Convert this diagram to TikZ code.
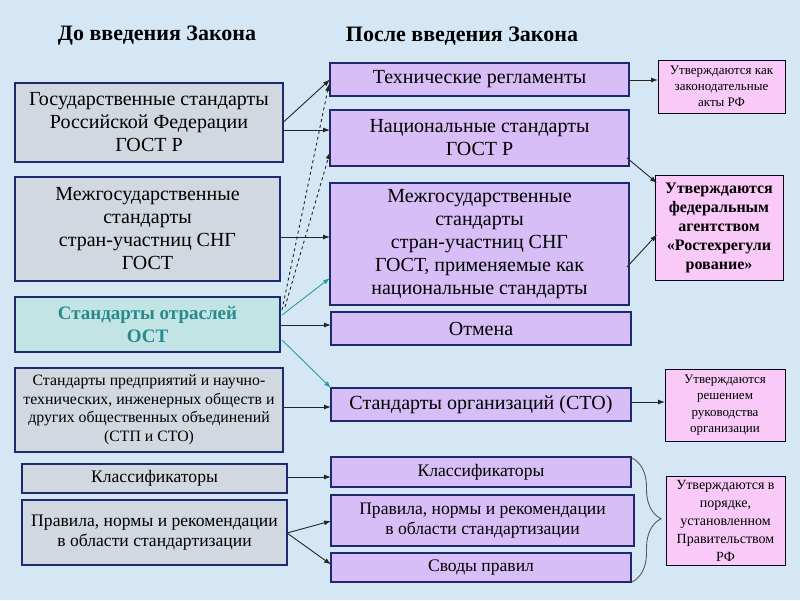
\documentclass[tikz,border=0pt]{standalone}
\usepackage{fontspec}
\setmainfont{Liberation Serif}
\usetikzlibrary{arrows.meta,decorations.pathreplacing,calc}
\definecolor{bgblue}{HTML}{D5E6F5}
\definecolor{navy}{HTML}{1F2A6E}
\definecolor{grayfill}{HTML}{D2D8E0}
\definecolor{tealfill}{HTML}{C2E4E4}
\definecolor{tealtext}{HTML}{2A8A8A}
\definecolor{tealline}{HTML}{2A9E9E}
\definecolor{lavfill}{HTML}{D8BEF6}
\definecolor{pinkfill}{HTML}{F9CAF7}
\tikzset{
  basebox/.style={draw=navy, line width=1.1pt, inner sep=0pt, outer sep=0pt, align=center, anchor=north west},
  lbox/.style={basebox, fill=grayfill},
  obox/.style={basebox, fill=tealfill, text=tealtext},
  mbox/.style={basebox, fill=lavfill},
  rbox/.style={basebox, draw=black!80!navy, line width=0.9pt, fill=pinkfill},
  conn/.style={line width=0.9pt, draw=black!85, -{Latex[length=7pt,width=5pt]}},
  tconn/.style={line width=0.9pt, draw=tealline, -{Latex[length=7pt,width=5pt]}},
  dconn/.style={line width=0.9pt, draw=black!85, dashed, -{Latex[length=7pt,width=5pt]}},
  big/.style={font=\fontsize{20}{23}\selectfont},
  mid/.style={font=\fontsize{17.6}{20.5}\selectfont},
  hdr/.style={font=\bfseries\fontsize{22}{24}\selectfont, inner sep=0pt}
}
\begin{document}
\begin{tikzpicture}[x=1pt,y=-1pt]
\fill[bgblue] (0,0) rectangle (800,600);
\useasboundingbox (0,0) rectangle (800,600);

\node[hdr] (H1) at (157,36) {До введения Закона};
\node[hdr] (H2) at (462,36) {После введения Закона};

% left column
\node[lbox, big, minimum width=268pt, minimum height=79pt] (L1) at (15,83)
  {Государственные стандарты\\Российской Федерации\\ГОСТ Р};
\node[lbox, big, minimum width=265pt, minimum height=104pt] (L2) at (15,177)
  {Межгосударственные\\стандарты\\стран-участниц СНГ\\ГОСТ};
\node[obox, minimum width=265pt, minimum height=55pt, font=\bfseries\fontsize{19}{23}\selectfont] (L3) at (15,297)
  {Стандарты отраслей\\ОСТ};
\node[lbox, minimum width=268pt, minimum height=84pt, font=\fontsize{15.8}{18.5}\selectfont] (L4) at (15,368)
  {Стандарты предприятий и научно-\\технических, инженерных обществ и\\других общественных объединений\\(СТП и СТО)};
\node[lbox, mid, minimum width=265pt, minimum height=29pt] (L5) at (22,464)
  {Классификаторы};
\node[lbox, mid, minimum width=265pt, minimum height=65pt] (L6) at (22,500)
  {Правила, нормы и рекомендации\\в области стандартизации};

% middle column
\node[mbox, big, minimum width=299pt, minimum height=33pt] (M1) at (330,63)
  {Технические регламенты};
\node[mbox, big, minimum width=299pt, minimum height=56pt] (M2) at (330,110)
  {Национальные стандарты\\ГОСТ Р};
\node[mbox, big, minimum width=299pt, minimum height=122pt] (M3) at (330,183)
  {Межгосударственные\\стандарты\\стран-участниц СНГ\\ГОСТ, применяемые как\\национальные стандарты};
\node[mbox, big, minimum width=300pt, minimum height=33pt] (M4) at (331,312)
  {Отмена};
\node[mbox, big, minimum width=300pt, minimum height=33pt] (M5) at (331,388)
  {Стандарты организаций (СТО)};
\node[mbox, mid, minimum width=300pt, minimum height=30pt] (M6) at (331,457)
  {Классификаторы};
\node[mbox, mid, minimum width=303pt, minimum height=51pt] (M7) at (331,495)
  {Правила, нормы и рекомендации\\в области стандартизации};
\node[mbox, mid, minimum width=300pt, minimum height=29pt] (M8) at (331,553)
  {Своды правил};

% right column
\node[rbox, font=\fontsize{13}{16}\selectfont, minimum width=127pt, minimum height=53pt] (R1) at (658,60)
  {Утверждаются как\\законодательные\\акты РФ};
\node[rbox, font=\bfseries\fontsize{16}{19}\selectfont, minimum width=128pt, minimum height=105pt] (R2) at (655,175)
  {Утверждаются\\федеральным\\агентством\\«Ростехрегули\\рование»};
\node[rbox, font=\fontsize{13}{16.5}\selectfont, minimum width=120pt, minimum height=72pt] (R3) at (665,369)
  {Утверждаются\\решением\\руководства\\организации};
\node[rbox, font=\fontsize{14}{18}\selectfont, minimum width=119pt, minimum height=89pt] (R4) at (666,476)
  {Утверждаются в\\порядке,\\установленном\\Правительством\\РФ};

% connectors left -> middle
\draw[conn] (L1.east) -- (M1.west);
\draw[conn] (L1.east |- 0,130) -- (M2.west |- 0,130);
\draw[conn] (L2.east |- 0,237) -- (M3.west |- 0,237);
\coordinate (d1) at ($(L3.north east)+(2,13)$);
\coordinate (d2) at ($(L3.north east)+(5,10)$);
\draw[dconn] (d1) -- ($(M1.south west)+(-1,-12)$);
\draw[dconn] (d2) -- ($(M2.south west)+(0,-14)$);
\draw[tconn] ($(L3.north east)+(2,18)$) -- ($(M3.south west)+(0,-27)$);
\draw[conn] (L3.east |- 0,325) -- (M4.west |- 0,325);
\draw[tconn] ($(L3.south east)+(2,-12)$) -- (M5.north west);
\draw[conn] (L4.east |- 0,407) -- (M5.west |- 0,407);
\draw[conn] (L5.east |- 0,477) -- (M6.west |- 0,477);
\draw[conn] ($(L6.east)+(0,0.5)$) -- ($(M7.west)+(0,0.5)$);
\draw[conn] ($(L6.east)+(0,0.5)$) -- ($(M8.west)+(0,-3)$);

% connectors middle -> right
\draw[conn] (M1.east |- 0,80) -- (R1.west |- 0,80);
\draw[conn] ($(M2.south east)+(-2,-8)$) -- ($(R2.north west)+(2,8)$);
\draw[conn] ($(M3.east)+(-2,23)$) -- ($(R2.west)+(2,7)$);
\draw[conn] (M5.east |- 0,402) -- (R3.west |- 0,402);

% brace
\draw[black!65, line width=0.9pt, decorate, decoration={brace, amplitude=29pt, aspect=0.49}]
  ($(M6.north east)+(1,1)$) -- ($(M8.south east)+(1,0)$);
\end{tikzpicture}
\end{document}
